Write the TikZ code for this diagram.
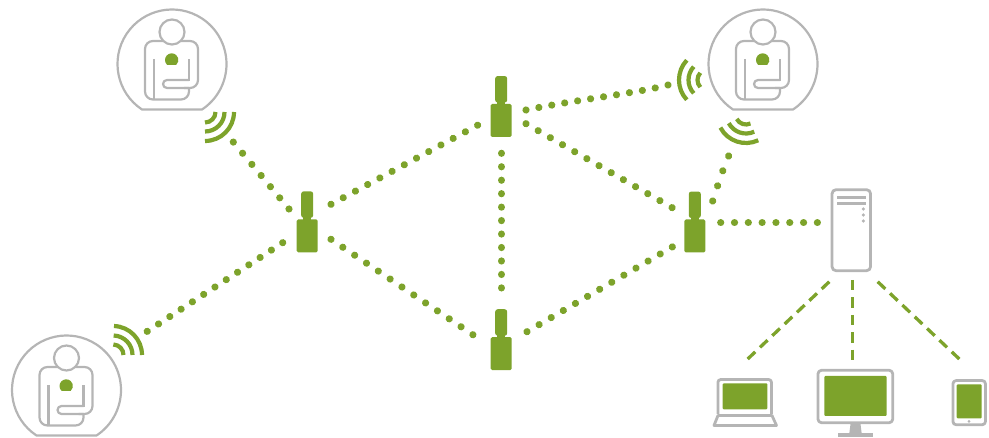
\documentclass[tikz,border=0pt]{standalone}
\usetikzlibrary{calc}
\definecolor{lgreen}{RGB}{125,163,43}
\definecolor{lgray}{RGB}{181,181,181}
\tikzset{
  x=1pt,y=-1pt,
  repbody/.style={rectangle,fill=lgreen,rounded corners=1.5pt,minimum width=21pt,minimum height=33pt,inner sep=0pt,outer sep=0pt},
  reptop/.style={rectangle,fill=lgreen,rounded corners=2.5pt,minimum width=12pt,minimum height=26.5pt,inner sep=0pt,outer sep=0pt},
  neck/.style={line width=7.5pt,draw=lgreen},
  pline/.style={draw=lgray,line width=2.2pt,line join=round},
  wave/.style={draw=lgreen,line width=4.2pt},
  dotline/.style={draw=lgreen,line width=7.2pt,line cap=round,dash pattern=on 0.01pt off #1pt},
  dashline/.style={draw=lgreen,line width=3.3pt,dash pattern=on 10.5pt off #1pt},
  screen/.style={rectangle,fill=lgreen,rounded corners=1pt,inner sep=0pt,outer sep=0pt},
  device/.style={draw=lgray,line width=2.8pt,line join=round},
}
\newcommand{\repeaterat}[3]{%
  \node[repbody] (#1) at (#2,#3) {};
  \node[reptop] (#1top) at (#2,#3-31.2) {};
  \draw[neck] ([yshift=1.5pt]#1top.south) -- ([yshift=-1pt]#1.north);
}
\newcommand{\personat}[3]{%
  \begin{scope}[shift={(#2,#3)}]
    \coordinate (#1) at (0,0);
    \draw[pline] (123.4:54.5) arc[start angle=123.4,end angle=416.6,radius=54.5] -- cycle;
    \draw[pline] (0,-32) circle[radius=12.5];
    \draw[pline,rounded corners=8pt] (-9,-23) -- (-27,-23) -- (-27,35.5) -- (17,35.5) -- (17,24);
    \draw[pline] (-18,-5) -- (-18,35.5);
    \draw[pline,rounded corners=8pt] (9,-23) -- (26,-23) -- (26,24) -- (12,24);
    \draw[pline,rounded corners=4pt] (17,24) -- (-9,24) -- (-9,16) -- (17,16);
    \draw[pline] (17,16.95) -- (17,-5);
    \fill[lgreen] (-0.3,-4) ++(132:6.7) arc[start angle=132,end angle=408,radius=6.7] -- cycle;
  \end{scope}
}
\newcommand{\wifiat}[5]{%
  \coordinate (#1) at (#2,#3);
  \foreach \r in {10.5,19.5,29}
    \draw[wave] ($(#1)+(#4:\r)$) arc[start angle=#4,end angle=#5,radius=\r];
}
\begin{document}
\begin{tikzpicture}
\useasboundingbox (0,0) rectangle (989,438);
\begin{scope}
\clip (0,0) rectangle (989,438);
% patients
\personat{p1}{172}{64}
\personat{p2}{763}{64}
\personat{p3}{66.5}{390}
% wireless symbols
\wifiat{w1}{205}{112}{0}{90}
\wifiat{w2}{708}{80}{137}{223}
\wifiat{w2b}{746}{114}{65}{152}
\wifiat{w3}{113}{355}{272}{360}
% repeaters
\repeaterat{a}{307.2}{235.8}
\repeaterat{b}{501.2}{120.5}
\repeaterat{c}{501.2}{353.7}
\repeaterat{d}{694.8}{236}
% server
\node[rectangle,draw=lgray,line width=2.8pt,rounded corners=4pt,minimum width=38.5pt,minimum height=81pt,inner sep=0pt,outer sep=0pt] (s) at (851.3,230.2) {};
\fill[lgray] (837,195.8) rectangle (866,198.8);
\fill[lgray] (837,201.8) rectangle (866,204.8);
\foreach \yy in {209,215,221} \fill[lgray] (863.3,\yy) circle[radius=1.8];
% devices
\draw[device,rounded corners=2.5pt] (718,414) -- (718,379.6) -- (771.4,379.6) -- (771.4,414);
\draw[device,line join=round] (718,415.5) -- (714,425.5) -- (776.5,425.5) -- (772,415.5) -- cycle;
\node[screen,minimum width=44.6pt,minimum height=26pt] (lap) at (745,396.3) {};
\draw[device,rounded corners=3.5pt] (818,370.3) rectangle (892.7,422.7);
\node[screen,minimum width=62.4pt,minimum height=40pt] (mon) at (855.5,396) {};
\fill[lgray] (850.5,424) -- (860.5,424) -- (861.7,433.5) -- (849.3,433.5) -- cycle;
\fill[lgray] (838.3,433.3) rectangle (872.7,437);
\draw[device,rounded corners=3pt] (953,380.6) rectangle (985.4,424.7);
\node[screen,minimum width=25pt,minimum height=34pt] (tab) at (969.2,401.3) {};
\fill[lgray] (969,421.3) circle[radius=1.5];
% dotted links
\draw[dotline=13.87] ([shift={(23.8,-31.5)}]a.center) -- ([shift={(-23.2,4.5)}]b.center);
\draw[dotline=14.24] ([shift={(23.8,3.5)}]a.center) -- ([shift={(-27.9,-18.7)}]c.center);
\draw[dotline=13.45] ([shift={(0.3,32.8)}]b.center) -- ([shift={(0.3,-65.4)}]c.center);
\draw[dotline=14.03] ([shift={(24.8,3.2)}]b.center) -- ([shift={(-22.1,-28)}]d.center);
\draw[dotline=14.01] ([shift={(25.8,-22)}]c.center) -- ([shift={(-22.1,10.7)}]d.center);
\draw[dotline=13.8] ([shift={(25.9,-13.3)}]d.center) -- ([shift={(-33.6,-7.5)}]s.center);
\draw[dotline=14.5] ([shift={(-18.2,-26.8)}]a.center) -- ([shift={(28,29.7)}]w1);
\draw[dotline=13.48] ([shift={(-24.5,6.9)}]a.center) -- ([shift={(33.7,-23.3)}]w3);
\draw[dotline=13.1] ([shift={(24.8,-10.5)}]b.center) .. controls ([shift={(70,-20)}]b.center) and ([shift={(-70,13)}]w2) .. ([shift={(-40,5)}]w2);
\draw[dotline=15.9] ([shift={(17.9,-35)}]d.center) .. controls ([shift={(22,-48)}]d.center) and ([shift={(-23,55)}]w2b) .. ([shift={(-17,41)}]w2b);
% dashed links
\draw[dashline=6.5] ([shift={(-22,51.5)}]s.center) -- ([shift={(2.7,-37.3)}]lap.center);
\draw[dashline=6.9] ([shift={(1.2,49.8)}]s.center) -- ([shift={(-3,-36)}]mon.center);
\draw[dashline=6.5] ([shift={(26.4,51.5)}]s.center) -- ([shift={(-9.9,-42.3)}]tab.center);
\end{scope}
\end{tikzpicture}
\end{document}
